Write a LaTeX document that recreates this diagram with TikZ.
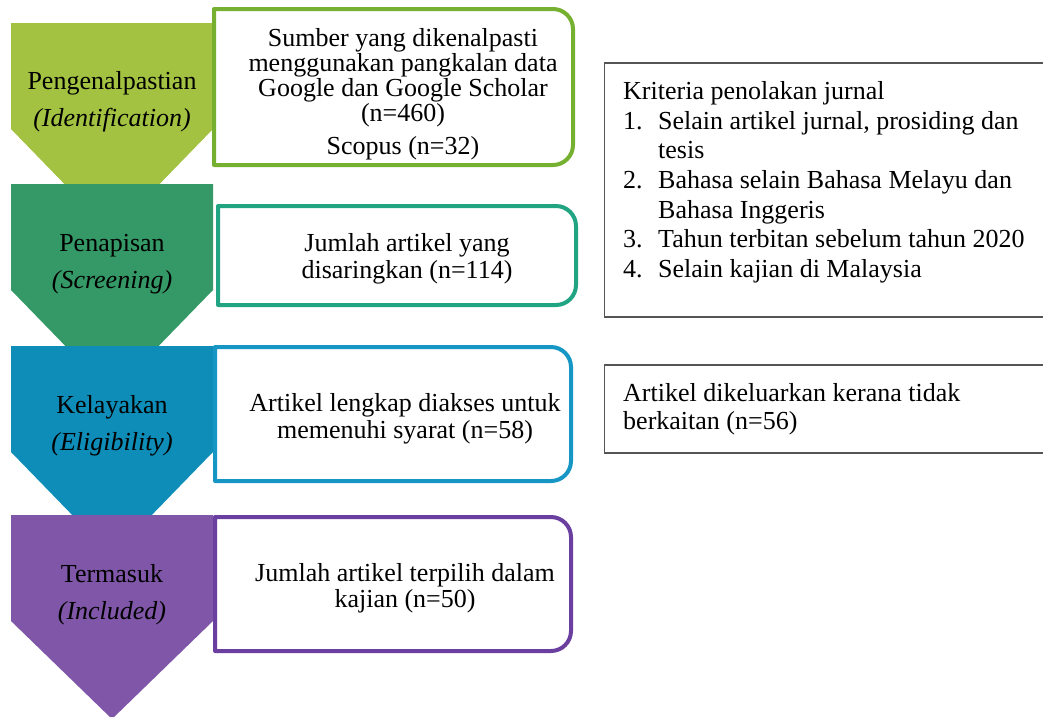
\documentclass[tikz,border=0pt]{standalone}
\usepackage{fontspec}
\setmainfont{Liberation Serif}
\definecolor{cAfill}{HTML}{A3C241}
\definecolor{cAline}{HTML}{76B030}
\definecolor{cBfill}{HTML}{349966}
\definecolor{cBline}{HTML}{20A482}
\definecolor{cCfill}{HTML}{0E8DB8}
\definecolor{cCline}{HTML}{1596C4}
\definecolor{cDfill}{HTML}{7F56A8}
\definecolor{cDline}{HTML}{6B3FA0}
\definecolor{frame}{HTML}{555555}
\tikzset{
  chev/.style={draw=none},
  chevtext/.style={align=center, inner sep=0pt, font=\fontsize{26}{37}\selectfont},
  boxline/.style={line width=4pt, fill=white, line join=round},
  boxtext/.style={align=center, inner sep=0pt, font=\fontsize{26}{26.5}\selectfont},
  sidebox/.style={draw=frame, line width=1.4pt, fill=white},
  sidetext/.style={align=left, anchor=north west, inner sep=0pt, font=\fontsize{26}{29.6}\selectfont}
}
\begin{document}
\begin{tikzpicture}[x=1pt,y=-1pt]
\useasboundingbox (0,0) rectangle (1043,716);
\clip (0,0) rectangle (1043,716);
% chevrons
\fill[cAfill] (11,23) -- (213,23) -- (213,129) -- (112,233) -- (11,129) -- cycle;
\fill[cBfill] (11,184) -- (213,184) -- (213,290) -- (112,394) -- (11,290) -- cycle;
\fill[cCfill] (11,346) -- (213,346) -- (213,452) -- (112,556) -- (11,452) -- cycle;
\fill[cDfill] (11,515) -- (213,515) -- (213,621) -- (112,719) -- (11,621) -- cycle;
\node[chevtext] (ch1) at (112,102) {Pengenalpastian\\\textit{(Identification)}};
\node[chevtext] (ch2) at (112,264) {Penapisan\\\textit{(Screening)}};
\node[chevtext] (ch3) at (112,426) {Kelayakan\\\textit{(Eligibility)}};
\node[chevtext] (ch4) at (112,595) {Termasuk\\\textit{(Included)}};
% boxes with rounded right corners
\draw[boxline, draw=cAline] (214,165) -- (214,9) -- (553,9) .. controls (564,9) and (573,18) .. (573,29) -- (573,145) .. controls (573,156) and (564,165) .. (553,165) -- cycle;
\draw[boxline, draw=cBline] (218,305) -- (218,206) -- (556,206) .. controls (567,206) and (576,215) .. (576,226) -- (576,285) .. controls (576,296) and (567,305) .. (556,305) -- cycle;
\draw[boxline, draw=cCline] (215,481) -- (215,347) -- (551,347) .. controls (562,347) and (571,356) .. (571,367) -- (571,461) .. controls (571,472) and (562,481) .. (551,481) -- cycle;
\draw[boxline, draw=cDline] (215,651) -- (215,517) -- (551,517) .. controls (562,517) and (571,526) .. (571,537) -- (571,631) .. controls (571,642) and (562,651) .. (551,651) -- cycle;
\node[boxtext, font=\fontsize{26}{25}\selectfont] (b1) at (403,94) {Sumber yang dikenalpasti\\menggunakan pangkalan data\\Google dan Google Scholar\\(n=460)\\[8pt]Scopus (n=32)};
\node[boxtext] (b2) at (407,259) {Jumlah artikel yang\\disaringkan (n=114)};
\node[boxtext] (b3) at (405,419) {Artikel lengkap diakses untuk\\memenuhi syarat (n=58)};
\node[boxtext] (b4) at (405,588) {Jumlah artikel terpilih dalam\\kajian (n=50)};
% side boxes
\draw[sidebox] (604.5,63) rectangle (1060,317);
\draw[sidebox] (604.5,365) rectangle (1060,453);
\node[sidetext] (crit) at (623,81.5) {Kriteria penolakan jurnal\\
\makebox[35pt][l]{1.}Selain artikel jurnal, prosiding dan\\
\hspace*{35pt}tesis\\
\makebox[35pt][l]{2.}Bahasa selain Bahasa Melayu dan\\
\hspace*{35pt}Bahasa Inggeris\\
\makebox[35pt][l]{3.}Tahun terbitan sebelum tahun 2020\\
\makebox[35pt][l]{4.}Selain kajian di Malaysia};
\node[sidetext, font=\fontsize{26}{28}\selectfont] (excl) at (623,383) {Artikel dikeluarkan kerana tidak\\berkaitan (n=56)};
\end{tikzpicture}
\end{document}
